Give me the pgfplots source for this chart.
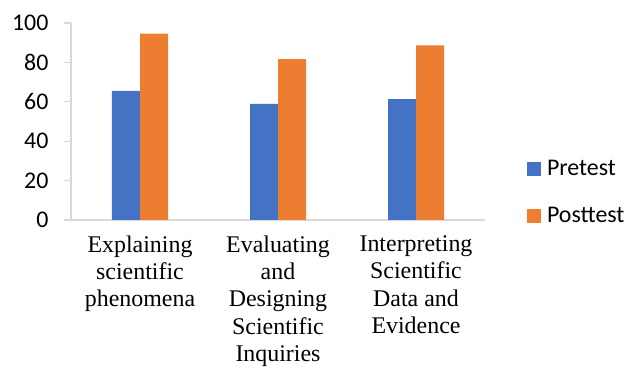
\documentclass[border=0pt]{standalone}
\usepackage{fontspec}
\setmainfont{Carlito}
\newfontfamily\tnr{Liberation Serif}
\usepackage{pgfplots}
\pgfplotsset{compat=1.18}
\definecolor{preblue}{HTML}{4472C4}
\definecolor{postorange}{HTML}{ED7D31}
\definecolor{axgray}{HTML}{D9D9D9}
\begin{document}
\begin{tikzpicture}
\path[use as bounding box] (0,0) rectangle (627bp,370bp);
\begin{axis}[
  at={(71bp,150bp)}, anchor=south west,
  scale only axis, width=414bp, height=197bp,
  ymin=0, ymax=100, ytick={0,20,...,100},
  xmin=-0.5, xmax=2.5, xtick={0,1,2},
  xticklabels={{Explaining\\scientific\\phenomena},{Evaluating\\and\\Designing\\Scientific\\Inquiries},{Interpreting\\Scientific\\Data and\\Evidence}},
  axis x line*=bottom, axis y line*=left,
  axis line style={axgray, line width=1.2bp, -},
  x axis line style={line width=1.6bp},
  xtick style={draw=none},
  ytick style={axgray, line width=1.2bp},
  tick align=outside, major tick length=7bp,
  /pgf/number format/assume math mode=true,
  yticklabel style={font=\fontsize{24}{28}\selectfont, xshift=-12bp},
  xticklabel style={font=\tnr\fontsize{24}{27.5}\selectfont, align=center, anchor=north, yshift=-5bp},
  ybar=0pt, bar width=28bp,
  legend style={draw=none, fill=none, at={(1.1015,0.14)}, anchor=west,
    inner sep=0pt, outer sep=0pt, column sep=6bp, row sep=30bp,
    font=\fontsize{24}{28}\selectfont,
    nodes={inner sep=0pt, outer sep=0pt, anchor=west}},
  legend cell align=left,
  legend image code/.code={\fill[#1] (0bp,-7bp) rectangle (14bp,7bp);},
]
\addplot[fill=preblue, draw=none] coordinates {(0,65.5) (1,58.9) (2,61.3)};
\addplot[fill=postorange, draw=none] coordinates {(0,94.6) (1,81.6) (2,88.7)};
\legend{Pretest, Posttest}
\end{axis}
\end{tikzpicture}
\end{document}
